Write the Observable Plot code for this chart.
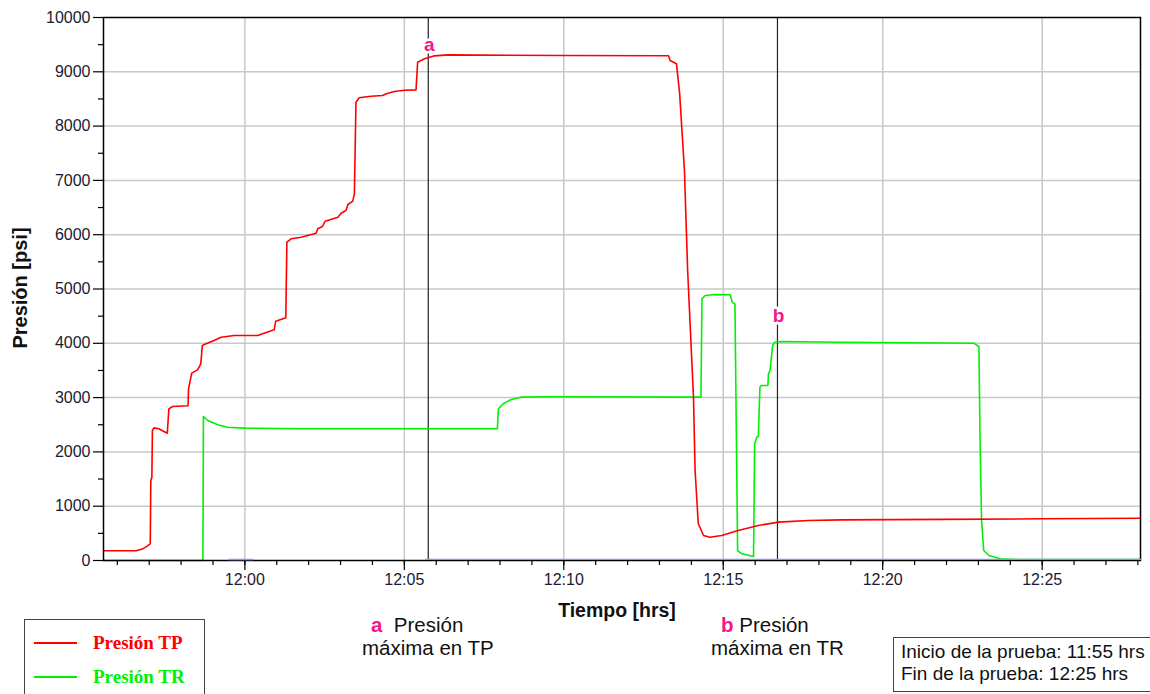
<!DOCTYPE html>
<html>
<head>
<meta charset="utf-8">
<script src="https://cdn.jsdelivr.net/npm/d3@7"></script>
<script src="https://cdn.jsdelivr.net/npm/@observablehq/plot@0.6"></script>
<style>
  html, body { margin: 0; padding: 0; background: #fff; }
  #wrap { position: relative; width: 1150px; height: 694px; overflow: hidden; font-family: "Liberation Sans", Arial, sans-serif; color: #111; }
  #chart { position: absolute; left: 0; top: 0; }
  .abs { position: absolute; white-space: nowrap; }
  .ytitle { left: 20px; top: 288px; transform: translate(-50%, -50%) rotate(-90deg); font-weight: bold; font-size: 20px; }
  .xtitle { left: 617px; top: 610px; transform: translate(-50%, -50%); font-weight: bold; font-size: 19.5px; }
  .legend { left: 24px; top: 619px; width: 181px; height: 90px; border: 1.5px solid #444; box-sizing: border-box; }
  .legrow { position: absolute; left: 0; height: 24px; display: flex; align-items: center; font-family: "Liberation Serif", "Times New Roman", serif; font-weight: bold; font-size: 19px; }
  .legrow .sw { width: 43px; height: 2.5px; margin-left: 9px; margin-right: 16px; }
  .ann { font-size: 20.5px; }
  .ann b { color: #f5168c; }
  .info { left: 893px; top: 637px; width: 258px; height: 55px; border: 1.5px solid #444; box-sizing: border-box; font-size: 19px; line-height: 22px; padding: 3px 0 0 7px; }
</style>
</head>
<body>
<div id="wrap">
  <div id="chart"></div>
  <div class="abs ytitle">Presión [psi]</div>
  <div class="abs xtitle">Tiempo [hrs]</div>
  <div class="abs legend" id="legend"></div>
  <div class="abs ann" style="left:371px; top:613px;"><b>a</b>&nbsp; Presión</div>
  <div class="abs ann" style="left:362px; top:636px;">máxima en TP</div>
  <div class="abs ann" style="left:721px; top:613px;"><b>b</b> Presión</div>
  <div class="abs ann" style="left:711px; top:636px;">máxima en TR</div>
  <div class="abs info">Inicio de la prueba: 11:55 hrs<br>Fin de la prueba: 12:25 hrs</div>
</div>
<script>
// ---- Data ----
const tpTime = ["11:55:34","11:56:35","11:56:47","11:56:57","11:57:02","11:57:03","11:57:05","11:57:06","11:57:09","11:57:18","11:57:34","11:57:37","11:57:44","11:58:13","11:58:14","11:58:20","11:58:31","11:58:37","11:58:40","11:58:47","11:59:02","11:59:15","11:59:40","12:00:24","12:00:36","12:00:55","12:00:58","12:01:17","12:01:19","12:01:27","12:01:46","12:02:14","12:02:17","12:02:26","12:02:31","12:02:55","12:03:01","12:03:10","12:03:14","12:03:23","12:03:26","12:03:29","12:03:35","12:03:57","12:04:19","12:04:26","12:04:41","12:05:00","12:05:22","12:05:25","12:05:38","12:05:57","12:06:22","12:10:02","12:13:17","12:13:20","12:13:32","12:13:38","12:13:47","12:13:53","12:14:04","12:14:07","12:14:13","12:14:23","12:14:35","12:14:57","12:15:28","12:16:06","12:16:44","12:17:40","12:18:43","12:21:52","12:25:00","12:28:05"];
const tpValue = [180,180,210,270,310,1470,1535,2394,2443,2425,2345,2793,2836,2849,3161,3450,3511,3622,3959,3990,4052,4112,4144,4144,4186,4248,4407,4469,5862,5924,5954,6028,6108,6151,6249,6323,6396,6446,6556,6617,6753,8440,8521,8551,8564,8594,8637,8661,8668,9177,9239,9294,9312,9300,9295,9208,9147,8594,7180,5341,3008,1657,676,460,429,460,552,645,706,737,748,758,768,778];

const trTime = ["11:55:34","11:58:41","11:58:42","11:58:50","11:59:09","11:59:27","11:59:59","12:01:46","12:07:55","12:07:57","12:08:06","12:08:21","12:08:40","12:09:37","12:14:18","12:14:20","12:14:26","12:14:44","12:15:13","12:15:17","12:15:22","12:15:27","12:15:35","12:15:57","12:15:59","12:16:03","12:16:06","12:16:09","12:16:12","12:16:24","12:16:25","12:16:28","12:16:30","12:16:33","12:16:37","12:16:50","12:18:43","12:22:51","12:23:01","12:23:03","12:23:06","12:23:10","12:23:20","12:23:41","12:24:10","12:28:05"];
const trValue = [0,0,2652,2578,2499,2455,2437,2425,2425,2793,2886,2965,3008,3015,3008,4819,4880,4899,4893,4757,4727,184,123,74,2149,2271,2284,3192,3223,3223,3438,3499,3683,3959,4020,4033,4020,4002,3941,2333,737,184,92,31,18,18];

// faint near-zero trace
const bkTime = ["11:59:30","12:00:15","12:05:40","12:28:05"];
const bkValue = [18,18,20,20];
const bkSeg = [1,1,2,2];

const markLabel = ["a","b"];
const markTime = ["12:05:45","12:16:42"];
const markValue = [9500,4510];

const majorXTicks = ["12:00:00","12:05:00","12:10:00","12:15:00","12:20:00","12:25:00"];
const minorXTicks = ["11:56","11:57","11:58","11:59","12:00","12:01","12:02","12:03","12:04","12:05","12:06","12:07","12:08","12:09","12:10","12:11","12:12","12:13","12:14","12:15","12:16","12:17","12:18","12:19","12:20","12:21","12:22","12:23","12:24","12:25","12:26","12:27","12:28"];
const majorYTicks = [0,1000,2000,3000,4000,5000,6000,7000,8000,9000,10000];
const minorYTicks = [500,1500,2500,3500,4500,5500,6500,7500,8500,9500];
const gridYTicks = [1000,2000,3000,4000,5000,6000,7000,8000,9000];

const series = [
  {name: "Presión TP", color: "#ff0000"},
  {name: "Presión TR", color: "#00f000"}
];

// ---- Build ----
const T = s => new Date(`2020-01-01T${s.length === 5 ? s + ":00" : s}Z`);
const tp = tpTime.map((t, i) => ({t: T(t), v: tpValue[i]}));
const tr = trTime.map((t, i) => ({t: T(t), v: trValue[i]}));
const bk = bkTime.map((t, i) => ({t: T(t), v: bkValue[i], s: bkSeg[i]}));
const marks = markLabel.map((l, i) => ({l, t: T(markTime[i]), v: markValue[i]}));
const mX = majorXTicks.map(T), nX = minorXTicks.map(T);

const chart = Plot.plot({
  width: 1150,
  height: 600,
  marginLeft: 103,
  marginRight: 10,
  marginTop: 17,
  marginBottom: 40,
  style: {fontFamily: "'Liberation Sans', Arial, sans-serif", fontSize: "16px", color: "#1a1a30", background: "white"},
  x: {type: "utc", domain: [T("11:55:34"), T("12:28:05")], label: null},
  y: {domain: [0, 10000], label: null},
  marks: [
    Plot.gridX(mX, {stroke: "#c8c8c8", strokeOpacity: 1, strokeWidth: 1.5}),
    Plot.gridY(gridYTicks, {stroke: "#c8c8c8", strokeOpacity: 1, strokeWidth: 1.5}),
    Plot.ruleX(marks, {x: "t", stroke: "#222", strokeWidth: 1.2}),
    Plot.line(tr, {x: "t", y: "v", stroke: series[1].color, strokeWidth: 1.6}),
    Plot.line(tp, {x: "t", y: "v", stroke: series[0].color, strokeWidth: 1.6}),
    Plot.axisX(nX, {tickSize: 5, tickFormat: () => "", stroke: "black", strokeWidth: 1.2, label: null}),
    Plot.axisX(mX, {tickSize: 10, tickPadding: 3, tickFormat: d3.utcFormat("%H:%M"), stroke: "black", strokeWidth: 1.2, fontSize: 16, label: null}),
    Plot.axisY(minorYTicks, {tickSize: 5, tickFormat: () => "", stroke: "black", strokeWidth: 1.2, label: null}),
    Plot.axisY(majorYTicks, {tickSize: 10, tickPadding: 3, tickFormat: d => String(d), stroke: "black", strokeWidth: 1.2, fontSize: 16, label: null}),
    Plot.frame({stroke: "black", strokeWidth: 1.5}),
    Plot.line(bk, {x: "t", y: "v", z: "s", stroke: "#9090f0", strokeWidth: 1.3}),
    Plot.text(marks, {x: "t", y: "v", text: "l", fill: "#f5168c", stroke: "white", strokeWidth: 5, fontWeight: "bold", fontSize: 19, dx: 1})
  ]
});
document.getElementById("chart").appendChild(chart);

// legend
const leg = document.getElementById("legend");
series.forEach((s, i) => {
  const row = document.createElement("div");
  row.className = "legrow";
  row.style.top = (i === 0 ? 11 : 45) + "px";
  row.style.color = s.color;
  const sw = document.createElement("span");
  sw.className = "sw";
  sw.style.background = s.color;
  row.appendChild(sw);
  row.appendChild(document.createTextNode(s.name));
  leg.appendChild(row);
});
</script>
</body>
</html>
